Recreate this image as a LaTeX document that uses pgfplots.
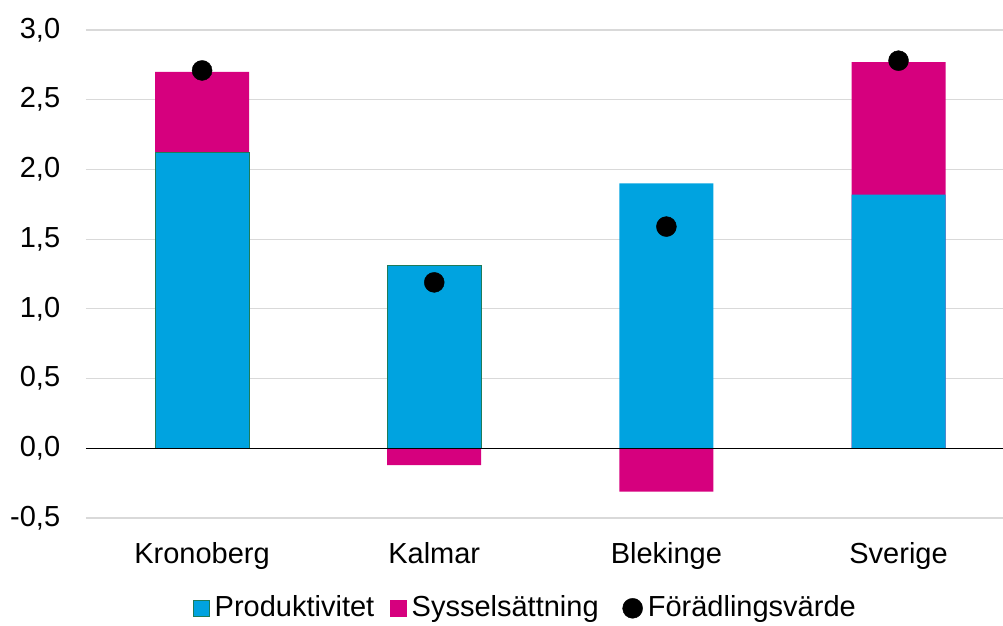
\documentclass[border=0pt]{standalone}
\usepackage{pgfplots}
\pgfplotsset{compat=1.18}
\usepackage{fontspec}
\setmainfont{Liberation Sans}
\definecolor{prodblue}{RGB}{0,163,224}
\definecolor{sysmag}{RGB}{214,0,126}
\definecolor{edgegreen}{RGB}{30,123,90}
\definecolor{gridgray}{RGB}{217,217,217}
\begin{document}
\fontsize{29pt}{34pt}\selectfont
\begin{tikzpicture}
\useasboundingbox (-86pt,-107pt) rectangle (917pt,518pt);
\begin{axis}[
  at={(0pt,0pt)}, anchor=south west,
  scale only axis, width=917pt, height=488pt,
  xmin=-0.5, xmax=3.45, ymin=-0.5, ymax=3.0,
  axis line style={draw=none},
  ytick={-0.5,0,0.5,1,1.5,2,2.5,3},
  ymajorgrids, grid style={gridgray, line width=1.2pt},
  xtick={0,1,2,3},
  xticklabels={Kronoberg,Kalmar,Blekinge,Sverige},
  major tick length=0pt,
  x tick label style={yshift=-15pt, font=\fontsize{29pt}{34pt}\selectfont},
  y tick label style={xshift=-16pt, font=\fontsize{29pt}{34pt}\selectfont},
  /pgf/number format/.cd, fixed, fixed zerofill, precision=1, use comma, assume math mode=true,
  /pgfplots/.cd,
  yticklabel={\pgfmathprintnumber{\tick}},
  ybar, bar width=94pt, bar shift=0pt,
  clip=false,
  legend columns=3,
  legend style={draw=none, fill=none, at={(0.479,-0.185)}, anchor=center,
    font=\fontsize{29pt}{34pt}\selectfont, inner sep=0pt,
    /tikz/every odd column/.append style={column sep=3pt},
    /tikz/every even column/.append style={column sep=14pt}},
]
% Sysselsättning (positive values drawn as total height, covered by Produktivitet)
\addplot[fill=sysmag, draw=none, forget plot] coordinates {(0,2.70) (1,-0.12) (2,-0.31) (3,2.77)};
% Produktivitet
\addplot[fill=prodblue, draw=edgegreen, line width=1pt, forget plot] coordinates {(0,2.12) (1,1.31)};
\addplot[fill=prodblue, draw=none, forget plot] coordinates {(2,1.90) (3,1.82)};
% zero line
\addplot[sharp plot, black, line width=1.2pt, forget plot] coordinates {(-0.5,0) (3.45,0)};
% Förädlingsvärde
\addplot[only marks, mark=*, mark size=10pt, black, forget plot] coordinates {(0,2.71) (1,1.19) (2,1.59) (3,2.78)};
\addlegendimage{legend image code/.code={\filldraw[fill=prodblue, draw=edgegreen, line width=1pt] (0pt,-8pt) rectangle (16pt,8pt);}}
\addlegendentry{Produktivitet}
\addlegendimage{legend image code/.code={\fill[sysmag] (0pt,-8pt) rectangle (16pt,8pt);}}
\addlegendentry{Sysselsättning}
\addlegendimage{legend image code/.code={\path[draw=none, fill=none] (0pt,0pt) -- (8pt,0pt); \fill[black] (18pt,0pt) circle (10pt);}}
\addlegendentry{Förädlingsvärde}
\end{axis}
\end{tikzpicture}
\end{document}
